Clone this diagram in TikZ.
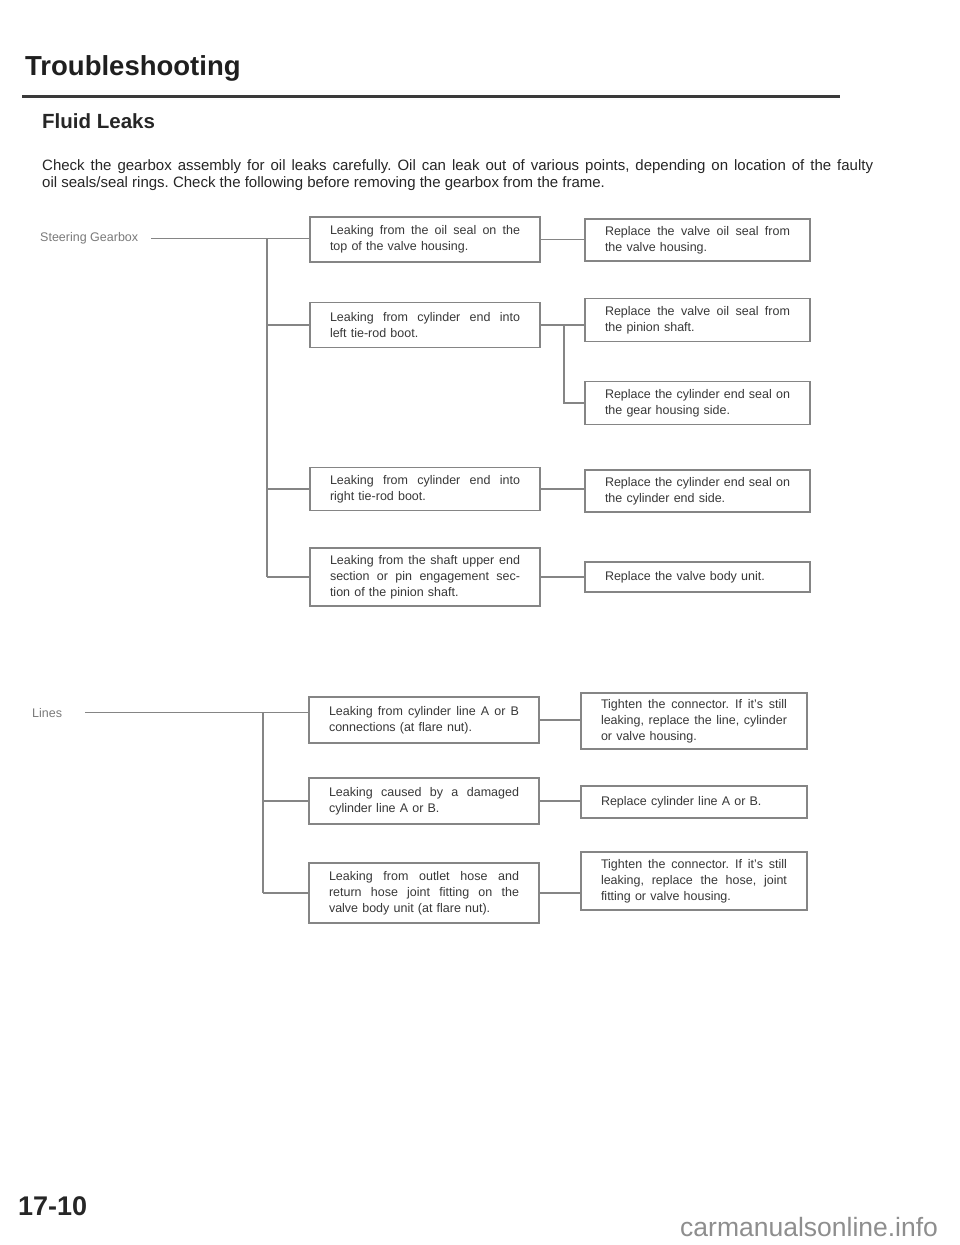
\documentclass[tikz,border=0pt]{standalone}
\usepackage{fontspec}
\setmainfont{Liberation Sans}
\frenchspacing
\definecolor{boxgray}{HTML}{858585}
\definecolor{txtgray}{HTML}{383838}
\definecolor{lblgray}{HTML}{7A7A7A}
\definecolor{rulegray}{HTML}{3A3A3A}
\definecolor{webgray}{HTML}{8E8E8E}
\newcommand{\jl}[2][190pt]{\makebox[#1][s]{\spaceskip=0pt\xspaceskip=0pt #2}}
\begin{document}
\begin{tikzpicture}[x=1pt,y=-1pt,
  box/.style={draw=boxgray, line width=1.1pt, fill=white, text width=190pt,
    inner xsep=20pt, inner ysep=0pt, align=left, text=txtgray,
    font=\fontsize{12.5}{16}\selectfont},
  rbox/.style={box, text width=185pt},
  lrbox/.style={box, text width=186pt},
  conn/.style={draw=boxgray, line width=1.1pt},
  lbl/.style={inner sep=0pt, text=lblgray, font=\fontsize{12.5}{15}\selectfont},
  hdr/.style={inner sep=0pt, anchor=base west}]
\fill[white] (0,0) rectangle (960,1245);
\useasboundingbox (0,0) rectangle (960,1245);

% header
\node[hdr, font=\fontsize{27.5}{32}\bfseries\selectfont, text=black!88] (title) at (25,75) {Troubleshooting};
\draw[line width=3pt, rulegray] (22,96) -- (840,96);
\node[hdr, font=\fontsize{20.5}{24}\bfseries\selectfont, text=black!85] (sub) at (42,128.5) {Fluid Leaks};
\node[hdr, font=\fontsize{15}{17}\selectfont, text=black!85] (para) at (42,170)
  {\makebox[831pt][s]{Check the gearbox assembly for oil leaks carefully. Oil can leak out of various points, depending on location of the faulty}};
\node[hdr, font=\fontsize{15}{17}\selectfont, text=black!85] (para2) at (42,187)
  {oil seals/seal rings. Check the following before removing the gearbox from the frame.};

% steering gearbox section
\node[lbl, anchor=base west] (sg) at (40,241.5) {Steering Gearbox};
\node[box, minimum height=45pt] (b1) at (425,239.5) {\jl{Leaking from the oil seal on the}\\top of the valve housing.};
\node[box, minimum height=45pt] (b2) at (425,325) {\jl{Leaking from cylinder end into}\\left tie-rod boot.};
\node[box, minimum height=43pt] (b3) at (425,489) {\jl{Leaking from cylinder end into}\\right tie-rod boot.};
\node[box, minimum height=58pt] (b4) at (425,577) {\jl{Leaking from the shaft upper end}\\\jl{section or pin engagement sec-}\\tion of the pinion shaft.};

\node[rbox, minimum height=42pt] (r1) at (697.5,240) {\jl[185pt]{Replace the valve oil seal from}\\the valve housing.};
\node[rbox, minimum height=43pt] (r2) at (697.5,320) {\jl[185pt]{Replace the valve oil seal from}\\the pinion shaft.};
\node[rbox, minimum height=43pt] (r3) at (697.5,403) {\jl[185pt]{Replace the cylinder end seal on}\\the gear housing side.};
\node[rbox, minimum height=42pt] (r4) at (697.5,491) {\jl[185pt]{Replace the cylinder end seal on}\\the cylinder end side.};
\node[rbox, minimum height=30pt] (r5) at (697.5,577) {Replace the valve body unit.};

\coordinate (tk) at (267,0);
\coordinate (jn) at (564,0);
\draw[conn] ([xshift=13pt]sg.east) -- (sg.east -| b1.west);
\draw[conn] (sg.east -| tk) -- (b4.west -| tk);
\draw[conn] (b2.west -| tk) -- (b2.west);
\draw[conn] (b3.west -| tk) -- (b3.west);
\draw[conn] (b4.west -| tk) -- (b4.west);
\draw[conn] (b1.east) -- (b1.east -| r1.west);
\draw[conn] (b2.east) -- (b2.east -| r2.west);
\draw[conn] (b2.east -| jn) |- (r3.west);
\draw[conn] (b3.east) -- (b3.east -| r4.west);
\draw[conn] (b4.east) -- (b4.east -| r5.west);

% lines section
\node[lbl, anchor=base west] (ln) at (32,717) {Lines};
\node[box, minimum height=46pt] (l1) at (424,720) {\jl{Leaking from cylinder line A or B}\\connections (at flare nut).};
\node[box, minimum height=46pt] (l2) at (424,801) {\jl{Leaking caused by a damaged}\\cylinder line A or B.};
\node[box, minimum height=60pt] (l3) at (424,893) {\jl{Leaking from outlet hose and}\\\jl{return hose joint fitting on the}\\valve body unit (at flare nut).};

\node[lrbox, minimum height=56pt] (lr1) at (694,721) {\jl[186pt]{Tighten the connector. If it's still}\\\jl[186pt]{leaking, replace the line, cylinder}\\or valve housing.};
\node[lrbox, minimum height=32pt] (lr2) at (694,802) {Replace cylinder line A or B.};
\node[lrbox, minimum height=58pt] (lr3) at (694,881) {\jl[186pt]{Tighten the connector. If it's still}\\\jl[186pt]{leaking, replace the hose, joint}\\fitting or valve housing.};

\coordinate (tk2) at (263,0);
\draw[conn] ([xshift=23pt]ln.east) -- (ln.east -| l1.west);
\draw[conn] (ln.east -| tk2) -- (l3.west -| tk2);
\draw[conn] (l2.west -| tk2) -- (l2.west);
\draw[conn] (l3.west -| tk2) -- (l3.west);
\draw[conn] (l1.east) -- (l1.east -| lr1.west);
\draw[conn] (l2.east) -- (l2.east -| lr2.west);
\draw[conn] (l3.east) -- (l3.east -| lr3.west);

% footer
\node[hdr, font=\fontsize{27}{30}\bfseries\selectfont, text=black!85] (pg) at (18,1215) {17-10};
\node[hdr, font=\fontsize{26.5}{30}\selectfont, text=webgray] (web) at (680,1236) {carmanualsonline.info};
\end{tikzpicture}
\end{document}
